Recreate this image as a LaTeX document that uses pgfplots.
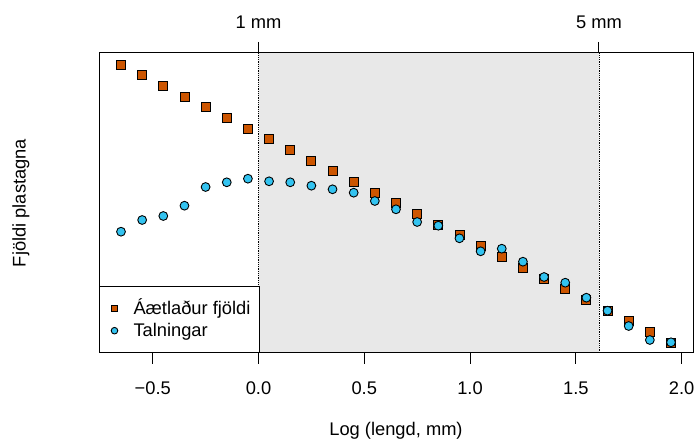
\documentclass[border=0pt]{standalone}
\usepackage{pgfplots}
\pgfplotsset{compat=1.18}
\usepackage{fontspec}
\setmainfont{Liberation Sans}
\definecolor{sq}{HTML}{CC5500}
\definecolor{ci}{HTML}{33C3F0}
\definecolor{shade}{HTML}{E8E8E8}
\newcommand{\rfont}{\fontsize{18.3}{22}\selectfont}
\begin{document}
\begin{tikzpicture}[x=1pt,y=1pt]
\useasboundingbox (0,0) rectangle (694,442);
\begin{axis}[name=main, at={(99pt,89pt)}, anchor=south west,
  width=594pt, height=300pt, scale only axis,
  xmin=-0.754, xmax=2.054, ymin=0, ymax=300,
  xtick={-0.5,0,0.5,1,1.5,2}, xticklabels={−0.5,0.0,0.5,1.0,1.5,2.0},
  ytick=\empty, xtick pos=bottom, tick align=outside, major tick length=11pt,
  every tick/.style={black, line width=1pt}, axis line style={line width=1pt},
  ticklabel style={font=\rfont},
  xticklabel style={yshift=-14pt},
  xlabel={Log (lengd, mm)}, ylabel={Fjöldi plastagna},
  label style={font=\rfont},
  xlabel style={at={(axis description cs:0.5,-0.26)}, anchor=center},
  ylabel style={at={(axis description cs:-0.1313,0.5)}, anchor=center},
  axis on top,
  legend cell align=left,
  legend image code/.code={\path[draw=none,fill=none] (0pt,-4pt) rectangle (14pt,4pt); \draw[#1, mark size=3.3pt] plot coordinates {(6pt,0pt)};},
  legend style={at={(0,0)}, anchor=south west, draw=black, line width=1pt, fill=white,
    font=\rfont, inner xsep=9pt, inner ysep=12.8pt, row sep=4.4pt, column sep=11pt,
    nodes={inner sep=0pt, text height=15pt, text depth=3pt}},
]
\addplot[fill=shade, draw=none, forget plot] coordinates {(0,-5) (1.6094,-5) (1.6094,305) (0,305)} \closedcycle;
\addplot[densely dotted, line width=0.8pt, forget plot] coordinates {(0,0) (0,300)};
\addplot[densely dotted, line width=0.8pt, forget plot] coordinates {(1.6094,0) (1.6094,300)};
\addplot[only marks, mark=square*, mark size=4.5pt, mark options={fill=sq, draw=black, line width=0.9pt}] coordinates {
(-0.65,288.3) (-0.55,277.7) (-0.45,267) (-0.35,256.3) (-0.25,245.7) (-0.15,235) (-0.05,224.3)
(0.05,213.7) (0.15,203) (0.25,192.3) (0.35,181.7) (0.45,171) (0.55,160.3) (0.65,149.7)
(0.75,139) (0.85,128.3) (0.95,117.7) (1.05,107) (1.15,96.3) (1.25,85.3) (1.35,74.3)
(1.45,63.7) (1.55,53) (1.65,42.3) (1.75,32.3) (1.85,21) (1.95,10.3)};
\addlegendentry{Áætlaður fjöldi}
\addplot[only marks, mark=*, mark size=4.4pt, mark options={fill=ci, draw=black, line width=0.9pt}] coordinates {
(-0.65,121.3) (-0.55,133) (-0.45,137) (-0.35,147.3) (-0.25,166) (-0.15,170.7) (-0.05,174.3)
(0.05,171.7) (0.15,170.7) (0.25,167.3) (0.35,163.7) (0.45,160.3) (0.55,152) (0.65,143.7)
(0.75,131) (0.85,127.3) (0.95,114.7) (1.05,101.7) (1.15,104.3) (1.25,91.3) (1.35,76)
(1.45,70.3) (1.55,55.3) (1.65,42.3) (1.75,27) (1.85,13) (1.95,10.7)};
\addlegendentry{Talningar}
\end{axis}
\begin{axis}[at={(99pt,89pt)}, anchor=south west,
  width=594pt, height=300pt, scale only axis,
  xmin=-0.754, xmax=2.054, ymin=0, ymax=300,
  axis x line*=top, axis y line=none,
  xtick={0,1.6094}, xticklabels={1 mm,5 mm},
  tick align=outside, major tick length=11pt,
  every tick/.style={black, line width=1pt}, axis line style={line width=1pt, -},
  ticklabel style={font=\rfont},
  xticklabel style={yshift=10pt},
]
\end{axis}
\end{tikzpicture}
\end{document}
